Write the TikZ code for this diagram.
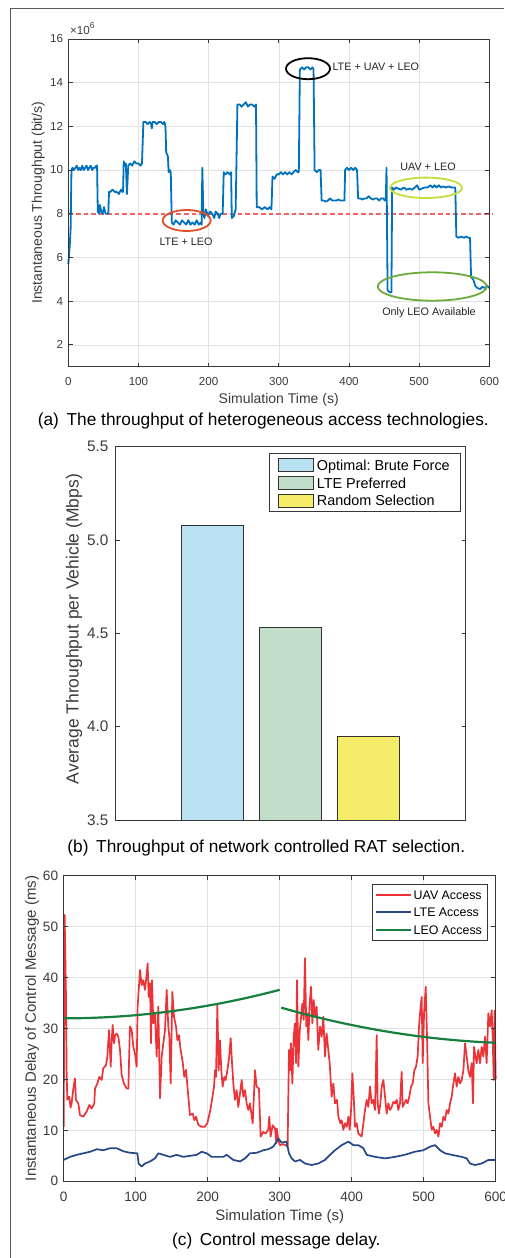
\documentclass[tikz,border=0pt]{standalone}
\usepackage{fontspec}
\setmainfont{Liberation Sans}
\frenchspacing
\definecolor{tickc}{RGB}{60,60,60}
\definecolor{boxc}{RGB}{55,55,55}
\definecolor{gridc}{RGB}{226,226,226}
\definecolor{mblue}{RGB}{0,114,189}
\definecolor{refline}{RGB}{242,100,100}
\definecolor{uavc}{RGB}{236,51,56}
\definecolor{ltec}{RGB}{38,72,135}
\definecolor{leoc}{RGB}{23,128,62}
\definecolor{elred}{RGB}{224,80,40}
\definecolor{elyel}{RGB}{200,220,60}
\definecolor{elgrn}{RGB}{110,170,60}
\definecolor{barblue}{RGB}{187,226,242}
\definecolor{bargreen}{RGB}{194,222,200}
\definecolor{baryellow}{RGB}{245,237,106}
\definecolor{framec}{RGB}{90,90,90}
\begin{document}
\begin{tikzpicture}[x=1pt,y=-1pt,
  gridl/.style={draw=gridc,line width=0.6pt},
  axbox/.style={draw=boxc,line width=0.8pt},
  ticka/.style={font=\fontsize{11.6}{12}\selectfont,text=tickc,inner sep=0pt},
  tickb/.style={font=\fontsize{15.3}{16}\selectfont,text=tickc,inner sep=0pt},
  tickcc/.style={font=\fontsize{13.6}{14}\selectfont,text=tickc,inner sep=0pt},
  labela/.style={font=\fontsize{14}{15}\selectfont,text=tickc,inner sep=0pt},
  labelc/.style={font=\fontsize{15}{16}\selectfont,text=tickc,inner sep=0pt},
  labelb/.style={font=\fontsize{17.5}{18}\selectfont,text=tickc,inner sep=0pt},
  capt/.style={font=\fontsize{17.3}{18}\selectfont,text=black,inner sep=0pt},
  annot/.style={font=\fontsize{10.8}{11}\selectfont,text=black!85,inner sep=0pt},
  legb/.style={font=\fontsize{14.4}{15}\selectfont,text=black,inner sep=0pt},
  legc/.style={font=\fontsize{12.4}{13}\selectfont,text=black,inner sep=0pt},
  ellip/.style={line width=1.8pt},
  barst/.style={draw=black!80,line width=0.8pt},
  thrline/.style={draw=refline,line width=1.9pt,dash pattern=on 4.7pt off 3pt}]
\useasboundingbox (0,0) rectangle (504,1258);
\fill[white] (0,0) rectangle (504,1258);
% outer frame
\draw[draw=framec,line width=1pt] (10.3,1258) -- (10.3,8.7) -- (504,8.7);

% ================= (a) =================
\begin{scope}[shift={(68.3pt,-388.5pt)},x=0.7017pt,y=21.85pt]
\foreach \t in {100,200,...,500} \draw[gridl] (\t,1) -- (\t,16);
\foreach \v in {2,4,6,10,12,14} \draw[gridl] (0,\v) -- (600,\v);
\coordinate (thrA) at (0,8);
\coordinate (thrB) at (605,8);
\draw[thrline] (thrA) -- (thrB);
\draw[draw=mblue,line width=1.8pt,line join=round] plot coordinates {
(0,5.7) (2,6.5) (3.3,7.3) (4.5,10.0) (6,10.1) (8,10.0) (10,10.1) (12,10.2) (14,10.0) (16,10.1) (18,10.0) (20,10.2) (22,10.0) (24,10.1) (26,10.2) (28,10.0) (30,10.1) (32,10.2) (34,10.0) (36,10.1) (38,10.1) (40,10.2) (41,10.2) (42,8.1) (44,8.0) (45,8.4) (47,8.1) (49,8.0) (51,8.3) (53,8.0) (56,8.0) (57,8.0) (58,9.0) (60,9.0) (63,9.1) (66,9.0) (69,9.0) (72,8.9) (75,9.1) (77,9.0) (78,9.0) (79,10.4) (80.5,10.2) (82,10.3) (83.5,8.9) (85.5,10.2) (88,10.3) (91,10.2) (94,10.4) (97,10.3) (100,10.3) (103,10.2) (105,10.3) (107,12.2) (110,12.2) (113,12.1) (116,12.2) (118,12.1) (119,11.9) (120,12.2) (123,12.2) (126,12.1) (129,12.2) (132,12.2) (135,12.1) (137,12.2) (138.5,12.0) (139.5,10.8) (141,10.7) (142,10.6) (143,9.9) (144.5,10.0) (146,9.9) (147.5,7.6) (150,7.5) (153,7.7) (156,7.6) (159,7.5) (162,7.7) (165,7.6) (168,7.5) (171,7.7) (174,7.5) (177,7.6) (180,7.5) (183,7.7) (186,7.5) (189,7.6) (190,7.5) (191,10.1) (192.5,8.0) (194,7.8) (196,8.2) (199,7.9) (202,8.1) (205,8.0) (208,7.8) (210,8.1) (213,8.0) (215,7.8) (217,8.0) (220,8.0) (221.5,9.9) (224,9.8) (227,9.9) (230,9.8) (232,9.9) (233,7.8) (236,7.9) (238.5,8.2) (240,11) (241,13.0) (244,13.0) (247,12.9) (250,13.0) (253,13.1) (256,12.9) (259,13.0) (262,13.0) (265,12.9) (267.5,13.0) (268.5,8.3) (272,8.3) (276,8.2) (280,8.3) (284,8.2) (287,8.3) (289.5,8.2) (291,9.7) (294,9.6) (297,9.8) (300,9.8) (303,9.9) (306,9.8) (309,9.9) (312,9.8) (315,9.9) (318,9.8) (321,9.9) (324,10.0) (327,9.9) (328.5,9.9) (330,14.6) (333,14.7) (336,14.6) (339,14.7) (342,14.7) (345,14.6) (348,14.7) (349.5,14.6) (351,10.0) (354,9.9) (357,10.0) (359.5,10.0) (361,8.6) (364,8.6) (367,8.55) (370,8.6) (373,8.7) (376,8.6) (379,8.6) (382,8.6) (385,8.65) (388,8.6) (391,8.6) (393.5,8.6) (394.5,10.0) (397,10.1) (400,10.0) (403,10.1) (406,10.0) (409,10.1) (411.5,10.0) (413,8.7) (416,8.7) (419,8.65) (422,8.7) (425,8.7) (428,8.8) (431,8.7) (434,8.65) (437,8.7) (440,8.7) (443,8.6) (446,8.7) (449,8.7) (451,8.6) (452.5,8.7) (453.5,10.1) (455,4.5) (458,4.4) (460.5,4.4) (461.5,9.2) (464,9.1) (467,9.2) (470,9.15) (474,9.1) (478,9.2) (482,9.1) (486,9.15) (490,9.1) (494,9.2) (497,9.3) (500,9.1) (504,9.15) (508,9.2) (512,9.2) (516,9.3) (519,9.2) (522,9.3) (525,9.2) (528,9.3) (531,9.2) (534,9.25) (538,9.2) (542,9.25) (546,9.2) (550,9.2) (551.5,9.2) (553,6.95) (556,6.9) (560,6.95) (564,6.9) (567,6.95) (570,6.9) (572.5,6.9) (574,5.1) (577,5.0) (578,4.9) (580,4.7) (583,4.6) (587,4.55) (590,4.65) (594,4.6) (597,4.7) (600,4.6)};
\draw[axbox] (0,1) rectangle (600,16);
\foreach \t in {0,100,...,600} {\draw[axbox] (\t,1) -- ++(0,0.19); \draw[axbox] (\t,16) -- ++(0,-0.19);}
\foreach \v in {2,4,...,16} {\draw[axbox] (0,\v) -- ++(6,0); \draw[axbox] (600,\v) -- ++(-6,0);}
\foreach \t in {0,100,...,600} \node[ticka,anchor=base,yshift=-18.35pt] (xa\t) at (\t,1) {\t};
\foreach \v in {2,4,...,16} \node[ticka,anchor=east,xshift=-5pt] (ya\v) at (0,\v) {\v};
\end{scope}
\node[ticka,anchor=base west] (expa) at (70,34.5) {×10\raisebox{0.55em}{\fontsize{8.5}{9}\selectfont 6}};
\node[labela,anchor=base] (xlaba) at (278.7,403.5) {Simulation Time (s)};
\node[labela,rotate=90] (ylaba) at (38.3,202.7) {Instantaneous Throughput (bit/s)};
% ellipses
\draw[ellip,draw=black] (308,68.7) ellipse [x radius=22,y radius=10.5];
\draw[ellip,draw=elred] (186.7,220.5) ellipse [x radius=24,y radius=10.5];
\draw[ellip,draw=elyel] (426,187.8) ellipse [x radius=36,y radius=10.2];
\draw[ellip,draw=elgrn] (432.2,286.5) ellipse [x radius=54.5,y radius=14.2];
\node[annot,anchor=base west] (anlul) at (332.3,70.7) {LTE + UAV + LEO};
\node[annot,anchor=base] (anll) at (186,245) {LTE + LEO};
\node[annot,anchor=base] (anul) at (428,170.7) {UAV + LEO};
\node[annot,anchor=base] (anol) at (429,315.7) {Only LEO Available};
\node[capt,anchor=base] (capa) at (263.3,425.7) {(a)\, The throughput of heterogeneous access technologies.};

% ================= (b) =================
\draw[barst,fill=barblue] (181.3,820) rectangle (243.7,525);
\draw[barst,fill=bargreen] (259.3,820) rectangle (321.7,627.7);
\draw[barst,fill=baryellow] (337.3,820) rectangle (399.3,736.3);
\draw[axbox] (115.3,446.7) rectangle (465.7,820);
\foreach \yy/\lab in {446.7/5.5,540/5.0,633.3/4.5,726.7/4.0,820/3.5} {
  \draw[axbox] (115.3,\yy) -- ++(4.2,0);
  \draw[axbox] (465.7,\yy) -- ++(-4.2,0);
  \node[tickb,anchor=east] (yb\lab) at (108.7,\yy) {\lab};
}
\node[labelb,rotate=90] (ylabb) at (74,629) {Average Throughput per Vehicle (Mbps)};
\draw[draw=boxc,fill=white,line width=0.8pt] (269.3,453.7) rectangle (460,511.3);
\draw[barst,fill=barblue] (278.7,458.7) rectangle (313.3,471.4);
\draw[barst,fill=bargreen] (278.7,476.7) rectangle (313.3,489.4);
\draw[barst,fill=baryellow] (278.7,494.4) rectangle (313.3,507.1);
\node[legb,anchor=base west] (lb1) at (316.7,470.2) {Optimal: Brute Force};
\node[legb,anchor=base west] (lb2) at (316.7,488.2) {LTE Preferred};
\node[legb,anchor=base west] (lb3) at (316.7,505.9) {Random Selection};
\node[capt,anchor=base] (capb) at (266.3,852.5) {(b)\, Throughput of network controlled RAT selection.};

% ================= (c) =================
\begin{scope}[shift={(63.7pt,-1181.3pt)},x=0.72pt,y=5.093pt]
\foreach \t in {100,200,...,500} \draw[gridl] (\t,0) -- (\t,60);
\foreach \v in {10,20,...,50} \draw[gridl] (0,\v) -- (600,\v);
\draw[draw=uavc,line width=1.7pt,line join=round] plot coordinates {
(0,10.7) (1.3,52.3) (2.2,45) (3.2,36.2) (4,22) (5,16) (7.8,16.6) (9.5,14.5) (11,15.3) (13.4,18.2) (15.7,20.2) (17,16) (20.3,15.3) (22.6,13) (27.3,12.7) (31.9,13.7) (35.6,15) (38.8,14.3) (42.5,15.3) (43.5,18.2) (46.7,19.2) (49.5,20.5) (52.7,19.9) (55,22.2) (58.7,22.8) (60.6,24.5) (63,29.7) (65.3,22.5) (66.7,27.7) (68,30.7) (69.9,27.1) (71.3,28.7) (73.6,29) (75.9,28.4) (78.2,25.8) (80.5,20.9) (83.7,19.2) (87.5,18.2) (89.8,18.2) (92,30.4) (94.4,29.7) (96.7,26.4) (99,25.1) (101.3,22.5) (102.7,34.3) (106,41.5) (108.3,38.5) (110.6,39.5) (112.8,37.6) (114.2,39.2) (116.6,42.8) (118,36.2) (119.9,38.9) (121.3,27.1) (122.6,39.5) (124.5,31) (126.8,33) (129.1,24.5) (131.4,34.3) (133.8,16.3) (136.1,24.5) (138.4,27.1) (140.7,29.7) (143,37.6) (145.3,30.4) (146.7,28.4) (148.6,19.2) (150.9,37.2) (153.2,32.3) (156,30.4) (157.9,27.7) (160.1,28.7) (162.4,25.8) (165.2,23.5) (167.5,20.5) (169.9,21.9) (173.1,16.6) (175.4,13) (179.1,13.3) (181.5,12) (183.8,12.7) (187,11.1) (191.2,10.7) (195.8,10.7) (199.5,11.4) (203.2,13.7) (205.5,15.6) (208.8,18.6) (210.1,21.8) (211.5,20.5) (213.4,34.6) (215.2,21.8) (217.1,27.7) (218.9,21.8) (220.8,18.6) (223.1,20.5) (224.9,19.9) (227.3,21.8) (229.6,24.1) (231.9,28.1) (233.8,23.2) (235.6,19.2) (237.9,16) (240.2,17.9) (242.5,14.6) (244.9,17.3) (247.2,19.9) (249.5,16.6) (251.8,17.9) (254.1,15.3) (256.4,14) (258.7,15.3) (262.5,11.4) (265.7,21.8) (267.9,18.6) (271.2,18.2) (273.5,8.8) (277.2,9.7) (280.4,9.4) (284.1,10.1) (285.5,12.7) (287.4,8.8) (290.2,11) (293.4,10.4) (295.4,7.5) (295.8,10.4) (298.1,8.1) (300.4,7.1) (305,7.3) (309,7.0) (311,6.8) (312.9,25.8) (314.3,21.8) (315.7,27.1) (317.6,19.2) (319.4,28.4) (321.2,31) (322.7,23.2) (324,39.5) (325.9,22.5) (327.9,29.7) (329.7,32.3) (331.4,34.9) (333.3,31.7) (335.1,43.8) (336.9,30.4) (338.4,33) (339.8,27.7) (341.6,34.9) (343.5,38.2) (345.3,31) (347.2,35.6) (349,32.3) (351.3,34.3) (353.6,25.8) (356,30.4) (358.3,28.4) (360.6,32.3) (362.9,24.5) (365.2,29) (367.5,25.8) (369.4,23.2) (372.2,16.6) (374.5,19.2) (376.8,15.3) (379.6,16) (381.5,12.7) (384.2,11.4) (386.1,12) (388.4,10.1) (390.7,11.4) (393.1,10.7) (395.4,12.7) (397.2,10.1) (399.1,14) (400.9,21.2) (402.8,16.6) (404.6,10.7) (406.9,11.4) (409.2,9.4) (411.5,9.1) (413.9,8.8) (416.2,11.4) (418.5,14) (420.8,16) (423.1,14.6) (425.4,18.6) (427.7,15.3) (430,16) (432.4,14) (434.7,28.7) (436.1,15.3) (437.9,13.3) (439.8,15.3) (441.7,18.6) (444,19.9) (446.3,16.6) (448.6,13.3) (450.9,15.3) (453.2,14) (455.5,14.6) (457.9,15.6) (460.2,15.3) (462.5,16) (464.8,14) (467.1,15.3) (469.4,21.5) (470.8,14.6) (473.1,15.3) (475.4,16) (477.7,15.3) (480,16.6) (482.4,18.6) (484.7,19.2) (487,21.8) (489.3,22.5) (491.6,24.5) (493.5,30.4) (495.3,33.6) (497.2,36.2) (498.6,23.2) (500.5,33) (502.8,38.2) (504.6,28.4) (506.5,15.3) (508.8,12.7) (511.1,10.1) (513.4,10.7) (515.7,9.4) (518.1,10.1) (520.4,8.8) (522.7,11.4) (525,10.7) (527.3,12.7) (529.6,12) (531.9,14) (534.3,13.3) (536.6,15.3) (538.9,16.6) (541.2,19.2) (543.5,21.2) (545.8,18.6) (548.1,20.5) (550.5,19.2) (552.8,19.9) (555.1,21.8) (557.4,27.1) (559.7,24.5) (562,21.8) (564.3,20.5) (566.6,23.2) (568.5,15.3) (569.9,26.4) (571.2,25.1) (573.6,23.2) (575.9,25.8) (578.2,23.2) (580.5,26.4) (582.8,24.5) (585.1,28.4) (587.4,23.2) (589.8,33) (592.1,30.4) (594.4,33.6) (595.8,28.4) (597.2,19.9) (598.5,33.5) (600,20)};
\draw[draw=ltec,line width=1.7pt,line join=round] plot coordinates {
(0,4.2) (8.7,4.8) (18,5.2) (27.3,5.5) (36.5,5.8) (45.8,6.3) (55,6.1) (64.3,6.5) (73.6,6.5) (82.8,5.9) (92.1,5.6) (102.3,5.5) (104.1,3.5) (108.3,2.9) (112.9,3.5) (119.9,3.9) (126.8,4.5) (131.4,5.5) (138.4,5.2) (147.6,4.8) (156.9,5.2) (166.1,4.8) (175.4,5.0) (184.7,5.2) (191.6,5.8) (198.6,5.5) (205.5,4.8) (214.8,4.8) (221.7,4.8) (226.3,5.2) (235.6,4.2) (244.9,3.9) (251.8,4.5) (258.7,5.5) (268,5.6) (277.2,6.1) (284.1,6.3) (291,6.8) (295.8,7.8) (298.1,8.4) (302.7,7.6) (309.5,7.8) (312.9,5.5) (316.6,4.5) (321.2,3.9) (328.2,4.2) (335.1,3.5) (344.4,3.2) (353.6,3.5) (362.9,4.2) (369.9,5.2) (376.8,6.1) (386.1,7.1) (395.4,7.8) (402.3,7.1) (409.2,7.1) (416.2,6.5) (420.8,5.2) (432.4,4.8) (446.3,4.5) (460.2,4.8) (473.6,5.2) (487.5,5.8) (499.5,6.1) (508.8,6.8) (515.7,7.1) (522.7,6.1) (529.6,5.5) (538.9,5.2) (552.8,4.8) (559.7,4.5) (564.3,3.5) (571.2,3.2) (580.5,3.5) (589.8,4.2) (600,4.2)};
\draw[draw=leoc,line width=2.2pt] plot[domain=0:300,samples=60] (\x,{32+5.6*(\x/300)^2});
\draw[draw=leoc,line width=2.2pt] plot[domain=302:600,samples=60] (\x,{27.2+1.725*((600-\x)/298)+5.175*((600-\x)/298)^2});
\draw[axbox] (0,0) rectangle (600,60);
\foreach \t in {0,100,...,600} {\draw[axbox] (\t,0) -- ++(0,0.85); \draw[axbox] (\t,60) -- ++(0,-0.85);}
\foreach \v in {0,10,...,60} {\draw[axbox] (0,\v) -- ++(6,0); \draw[axbox] (600,\v) -- ++(-6,0);}
\foreach \t in {0,100,...,600} \node[tickcc,anchor=base,yshift=-20.4pt] (xc\t) at (\t,0) {\t};
\foreach \v in {0,10,...,60} \node[tickcc,anchor=east,xshift=-5.4pt] (yc\v) at (0,\v) {\v};
\end{scope}
\node[labelc,anchor=base] (xlabc) at (279.7,1220.5) {Simulation Time (s)};
\node[labelc,rotate=90] (ylabc) at (32,1028.5) {Instantaneous Delay of Control Message (ms)};
\draw[draw=boxc,fill=white,line width=0.8pt] (372.7,884.7) rectangle (487.3,940);
\draw[draw=uavc,line width=2pt] (376,895) -- (410.7,895);
\draw[draw=ltec,line width=2pt] (376,912.3) -- (410.7,912.3);
\draw[draw=leoc,line width=2.2pt] (376,929.7) -- (410.7,929.7);
\node[legc,anchor=base west] (lc1) at (413.5,899.5) {UAV Access};
\node[legc,anchor=base west] (lc2) at (413.5,916.8) {LTE Access};
\node[legc,anchor=base west] (lc3) at (413.5,934.2) {LEO Access};
\node[capt,anchor=base] (capc) at (276.3,1245.5) {(c)\, Control message delay.};
\end{tikzpicture}
\end{document}
